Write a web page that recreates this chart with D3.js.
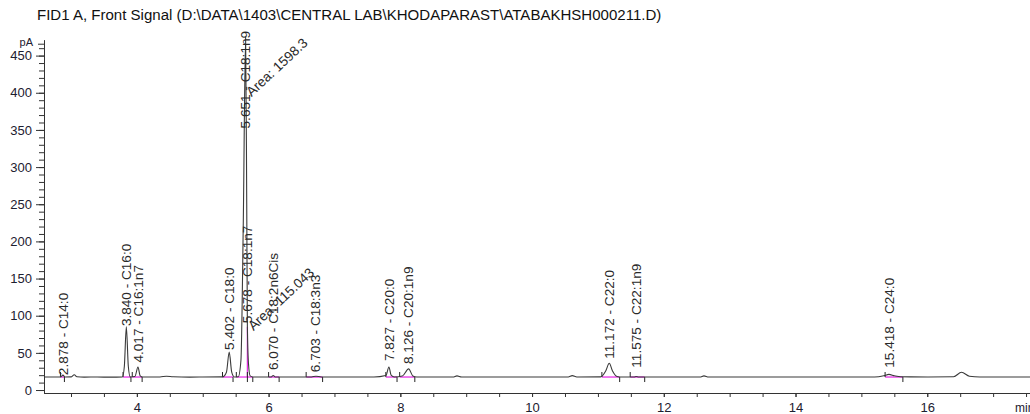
<!DOCTYPE html>
<html>
<head>
<meta charset="utf-8">
<script src="https://cdn.jsdelivr.net/npm/d3@7"></script>
<style>
  body { margin: 0; background: #fff; }
  text { font-family: "Liberation Sans", Arial, sans-serif; }
</style>
</head>
<body>
<div class="canvas"></div>
<script>
const title = "FID1 A, Front Signal (D:\\DATA\\1403\\CENTRAL LAB\\KHODAPARAST\\ATABAKHSH000211.D)";

// detector trace (min, pA)
const traceTime = [2.59, 2.70, 2.84, 2.878, 2.91, 3.00, 3.05, 3.09, 3.20, 3.40, 3.60, 3.78, 3.81, 3.84, 3.87, 3.90,
  3.97, 4.017, 4.05, 4.09, 4.35, 4.45, 4.55, 4.80, 5.00, 5.30, 5.36, 5.402, 5.44, 5.48, 5.54, 5.58, 5.615, 5.651,
  5.668, 5.678, 5.695, 5.72, 5.76, 5.90, 6.04, 6.07, 6.10, 6.40, 6.65, 6.72, 6.80, 7.20, 7.60, 7.78, 7.827, 7.86,
  7.91, 8.03, 8.126, 8.19, 8.25, 8.60, 8.80, 8.86, 8.93, 9.50, 10.00, 10.55, 10.61, 10.68, 11.04, 11.12, 11.172,
  11.22, 11.29, 11.36, 11.55, 11.58, 11.62, 12.00, 12.55, 12.61, 12.68, 13.50, 14.50, 15.20, 15.34, 15.418, 15.50,
  15.60, 16.00, 16.40, 16.52, 16.64, 16.80, 17.20, 17.56];
const traceSignal = [17.5, 17.6, 17.6, 20.0, 17.6, 17.7, 20.5, 17.8, 17.4, 17.5, 17.3, 17.6, 32, 85, 32, 17.6,
  18.2, 31, 19, 17.5, 17.6, 18.6, 17.8, 17.4, 17.5, 17.7, 24, 51, 24, 17.6, 17.9, 40, 220, 475,
  250, 85, 35, 19, 17.6, 17.5, 17.6, 19.5, 17.6, 17.5, 17.6, 18.6, 17.6, 17.5, 17.5, 19.5, 31, 20,
  17.6, 18.8, 28.5, 19, 17.6, 17.5, 17.5, 19, 17.6, 17.5, 17.5, 17.5, 19.4, 17.5, 17.7, 26, 36,
  26, 18.2, 17.5, 17.6, 18.3, 17.6, 17.5, 17.5, 19, 17.5, 17.5, 17.5, 17.6, 19.2, 21, 19.2,
  17.8, 17.6, 17.9, 24, 18.6, 17.5, 17.6, 17.5];

// integrated peaks
const peakRT = [2.878, 3.840, 4.017, 5.402, 5.651, 5.678, 6.070, 6.703, 7.827, 8.126, 11.172, 11.575, 15.418];
const peakName = ["C14:0", "C16:0", "C16:1n7", "C18:0", "C18:1n9", "C18:1n7", "C18:2n6Cis", "C18:3n3",
  "C20:0", "C20:1n9", "C22:0", "C22:1n9", "C24:0"];
const peakLabelAt = [20, 86, 37, 54, 352, 90, 27, 24, 39, 35, 42, 30, 30];
const peakStart = [2.84, 3.79, 3.93, 5.30, 5.51, 5.678, 6.00, 6.57, 7.78, 7.99, 11.06, 11.49, 15.36];
const peakEnd = [2.90, 3.91, 4.08, 5.46, 5.678, 5.76, 6.16, 6.82, 7.95, 8.22, 11.33, 11.71, 15.63];
const baselineLevel = 17.5;

const areaRT = [5.651, 5.678];
const areaText = ["Area: 1598.3", "Area: 115.043"];
const areaAt = [394, 79];

const xMajorTicks = [4, 6, 8, 10, 12, 14, 16];
const xMinorTicks = d3.range(3, 17.6, 0.5);
const yMajorTicks = [0, 50, 100, 150, 200, 250, 300, 350, 400, 450];
const yMinorTicks = d3.range(0, 461, 10);

const width = 1030, height = 414;
const svg = d3.select('.canvas').append('svg')
    .attr('width', width)
    .attr('height', height);

const x = d3.scaleLinear().domain([2.59, 17.56]).range([44, 1030]);
const y = d3.scaleLinear().domain([-4, 471]).range([393, 40]);

// title, squeezed to the width it has in the picture
const t = svg.append('text')
    .attr('x', 37).attr('y', 20)
    .attr('font-size', 13)
    .attr('fill', '#111')
    .text(title);
const tw = t.node().getComputedTextLength();
t.attr('font-size', 13 * 625 / tw);

// axes
const yAxisG = svg.append('g').attr('transform', `translate(${x.range()[0]},0)`);
yAxisG.append('g').call(d3.axisLeft(y).tickValues(yMinorTicks).tickSize(5).tickSizeOuter(0).tickFormat(''));
yAxisG.append('g').attr('class', 'ymaj')
    .call(d3.axisLeft(y).tickValues(yMajorTicks).tickSize(8).tickSizeOuter(0).tickPadding(4));
yAxisG.append('g').attr('class', 'yunit')
    .call(d3.axisLeft(y).tickValues([466]).tickSize(6).tickSizeOuter(0).tickPadding(5).tickFormat(() => 'pA'));

const xAxisG = svg.append('g').attr('transform', `translate(0,${y.range()[0]})`);
xAxisG.append('g').call(d3.axisBottom(x).tickValues(xMinorTicks).tickSize(4).tickSizeOuter(0).tickFormat(''));
xAxisG.append('g').call(d3.axisBottom(x).tickValues(xMajorTicks).tickSize(4).tickSizeOuter(0).tickPadding(6));

svg.selectAll('.tick text').attr('font-size', 13).attr('fill', '#1d2030')
    .attr('font-family', '"Liberation Sans", Arial, sans-serif');
svg.selectAll('.yunit .tick text').attr('font-size', 11).attr('dy', '0.2em');
svg.selectAll('.domain, .tick line').attr('stroke', '#333');

svg.append('text')
    .attr('x', 1015).attr('y', y.range()[0] + 19)
    .attr('font-size', 12).attr('fill', '#1d2030')
    .text('min');

// integration baselines and drop lines
const by = y(baselineLevel);
svg.append('g').selectAll('line')
    .data(peakRT)
    .join('line')
    .attr('x1', (d, i) => x(peakStart[i]))
    .attr('x2', (d, i) => x(peakEnd[i]))
    .attr('y1', by).attr('y2', by)
    .attr('stroke', '#e830e8').attr('stroke-width', 1.3);

const dropIdx = peakRT.map((d, i) => i).filter(i => i > 0 && peakStart[i] === peakEnd[i - 1]);
svg.append('g').selectAll('line')
    .data(dropIdx)
    .join('line')
    .attr('x1', i => x(peakStart[i])).attr('x2', i => x(peakStart[i]))
    .attr('y1', by).attr('y2', i => y(peakLabelAt[i] - 5))
    .attr('stroke', '#e830e8').attr('stroke-width', 1.3);

// start / end markers
const marks = svg.append('g').attr('stroke', '#222').attr('stroke-width', 1);
marks.selectAll('.ms').data(peakRT).join('line').attr('class', 'ms')
    .attr('x1', (d, i) => x(peakStart[i])).attr('x2', (d, i) => x(peakStart[i]))
    .attr('y1', by - 5).attr('y2', by);
marks.selectAll('.me').data(peakRT).join('line').attr('class', 'me')
    .attr('x1', (d, i) => x(peakEnd[i])).attr('x2', (d, i) => x(peakEnd[i]))
    .attr('y1', by).attr('y2', by + 5);

// trace
const line = d3.line()
    .x(d => x(d[0]))
    .y(d => y(d[1]))
    .curve(d3.curveMonotoneX);
svg.append('path')
    .datum(traceTime.map((tm, i) => [tm, traceSignal[i]]))
    .attr('d', line)
    .attr('fill', 'none')
    .attr('stroke', '#3a3a3a')
    .attr('stroke-width', 1.1);

// peak labels
svg.append('g').selectAll('text')
    .data(peakRT)
    .join('text')
    .attr('transform', (d, i) => `translate(${x(d) + 4.8},${y(peakLabelAt[i])}) rotate(-90)`)
    .attr('font-size', 13.6)
    .attr('fill', '#2a2a2a')
    .text((d, i) => `${d.toFixed(3)} - ${peakName[i]}`);

svg.append('g').selectAll('text')
    .data(areaRT)
    .join('text')
    .attr('transform', (d, i) => `translate(${x(d) + 6},${y(areaAt[i])}) rotate(-43)`)
    .attr('font-size', 13.6)
    .attr('fill', '#2a2a2a')
    .text((d, i) => areaText[i]);
</script>
</body>
</html>
